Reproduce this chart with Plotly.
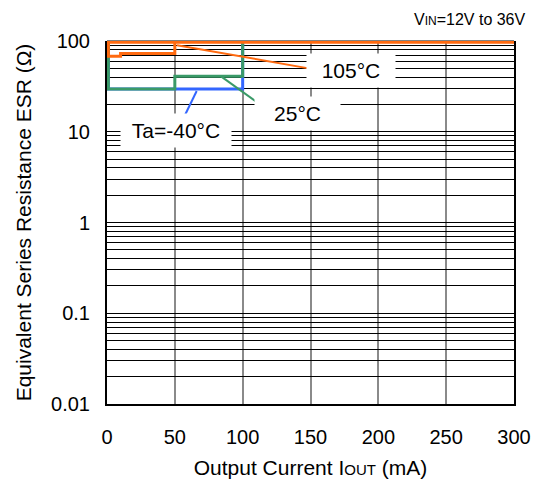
import plotly.graph_objects as go

# ---- data ----
orange_x = [300, 1, 1, 10, 10, 50, 50]          # 105°C boundary
orange_y = [97, 97, 68, 68, 73, 73, 97]
green_x = [1, 1, 50, 50, 100, 100]              # 25°C boundary
green_y = [97, 29.5, 29.5, 41, 41, 97]
blue_x = [1, 1, 100, 100]                       # Ta=-40°C boundary
blue_y = [97, 29.5, 29.5, 97]

x_ticks = [0, 50, 100, 150, 200, 250, 300]
y_decades = [0.01, 0.1, 1, 10, 100]
y_labels = ["0.01", "0.1", "1", "10", "100"]

ORANGE = "#FF6A10"
GREEN = "#3A9A68"
BLUE = "#3366FF"
FONT = "Liberation Sans, Arial, sans-serif"

# gridline positions (1..9 per decade)
y_tickvals, y_ticktext = [], []
for i, d in enumerate(y_decades):
    if i < len(y_decades) - 1:
        for m in range(1, 10):
            y_tickvals.append(round(d * m, 6))
            y_ticktext.append(y_labels[i] if m == 1 else "")
    else:
        y_tickvals.append(d)
        y_ticktext.append(y_labels[i])

fig = go.Figure()
fig.add_trace(go.Scatter(x=blue_x, y=blue_y, mode="lines",
                         line=dict(color=BLUE, width=3), showlegend=False))
fig.add_trace(go.Scatter(x=green_x, y=green_y, mode="lines",
                         line=dict(color=GREEN, width=3), showlegend=False))
fig.add_trace(go.Scatter(x=orange_x, y=orange_y, mode="lines",
                         line=dict(color=ORANGE, width=3), showlegend=False))

# leader lines (data coords)
leaders = [
    (51.6, 90, 151.8, 49, ORANGE),
    (84.3, 40.5, 115.1, 18.9, GREEN),
    (66.1, 28.1, 57.5, 15.3, BLUE),
]
for x0, y0, x1, y1, c in leaders:
    fig.add_shape(type="line", xref="x", yref="y", x0=x0, y0=y0, x1=x1, y1=y1,
                  line=dict(color=c, width=2), layer="above")

labels = [
    ("105°C", 180.0, 1.680, 78),
    ("25°C", 140.4, 1.201, 75),
    ("Ta=-40°C", 50.5, 1.014, 100),
]
for t, x, ly, w in labels:
    fig.add_annotation(x=x, y=ly, xref="x", yref="y", text=t, showarrow=False,
                       bgcolor="white", borderpad=5, width=w,
                       font=dict(family=FONT, size=21, color="black"))

fig.add_annotation(x=1.0, y=1.0, xref="paper", yref="paper", xanchor="right", yanchor="bottom",
                   xshift=14, yshift=11, showarrow=False,
                   text="V<span style='font-size:12px'>IN</span>=12V to 36V",
                   font=dict(family=FONT, size=16, color="black"))

# top border grey
fig.add_shape(type="line", xref="paper", yref="paper", x0=0, x1=1, y0=1, y1=1,
              line=dict(color="#808080", width=2), layer="below")

fig.update_layout(
    width=533, height=479,
    margin=dict(l=107, r=19, t=41, b=75),
    paper_bgcolor="white", plot_bgcolor="white",
    font=dict(family=FONT, size=20, color="black"),
    xaxis=dict(range=[0, 300], tickvals=x_ticks, ticks="", showgrid=True,
               gridcolor="#8a8a8a", gridwidth=1.5, zeroline=False,
               showline=True, linecolor="black", linewidth=2,
               ticklabelstandoff=14, automargin=False,
               title=dict(text="Output Current I<span style='font-size:15px'>OUT</span> (mA)",
                          font=dict(size=21), standoff=14)),
    yaxis=dict(type="log", range=[-2, 2], tickvals=y_tickvals, ticktext=y_ticktext,
               ticks="", showgrid=True, gridcolor="black", gridwidth=1, zeroline=False,
               showline=True, linecolor="black", linewidth=2, mirror=True,
               ticklabelstandoff=11, automargin=False,
               title=dict(text="Equivalent Series Resistance ESR (Ω)",
                          font=dict(size=21), standoff=14)),
)

fig.write_html("out.html", config={"displayModeBar": False},
               post_script="document.body.style.margin='0';document.body.style.overflow='hidden';")
